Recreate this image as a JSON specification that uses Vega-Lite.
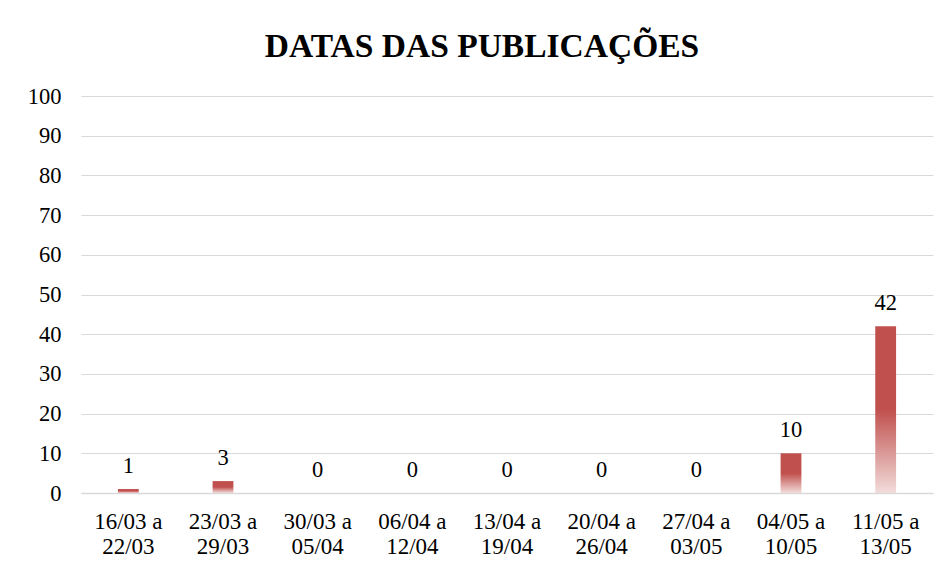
{
  "$schema": "https://vega.github.io/schema/vega-lite/v6.json",
  "width": 852,
  "height": 397,
  "autosize": {"type": "none"},
  "padding": {"left": 81, "top": 96, "right": 18, "bottom": 81},
  "background": "white",
  "title": {
    "text": "DATAS DAS PUBLICAÇÕES",
    "font": "Liberation Serif",
    "fontSize": 33.5,
    "fontWeight": "bold",
    "color": "#000000",
    "anchor": "middle",
    "dx": -25,
    "offset": 21
  },
  "data": {
    "values": [
      {"semana": "16/03 a 22/03", "n": 1},
      {"semana": "23/03 a 29/03", "n": 3},
      {"semana": "30/03 a 05/04", "n": 0},
      {"semana": "06/04 a 12/04", "n": 0},
      {"semana": "13/04 a 19/04", "n": 0},
      {"semana": "20/04 a 26/04", "n": 0},
      {"semana": "27/04 a 03/05", "n": 0},
      {"semana": "04/05 a 10/05", "n": 10},
      {"semana": "11/05 a 13/05", "n": 42}
    ]
  },
  "encoding": {
    "x": {
      "field": "semana",
      "type": "ordinal",
      "sort": null,
      "scale": {"paddingInner": 0.78, "paddingOuter": 0.39},
      "axis": {
        "title": null,
        "labelAngle": 0,
        "labelExpr": "[slice(datum.label,0,7), slice(datum.label,8)]",
        "labelFont": "Liberation Serif",
        "labelFontSize": 23,
        "labelColor": "#000000",
        "labelLineHeight": 25,
        "labelPadding": 17,
        "labelBaseline": "top",
        "ticks": false,
        "domainColor": "#d9d9d9",
        "domainWidth": 1.5,
        "grid": false
      }
    },
    "y": {
      "field": "n",
      "type": "quantitative",
      "scale": {"domain": [0, 100]},
      "axis": {
        "title": null,
        "values": [0, 10, 20, 30, 40, 50, 60, 70, 80, 90, 100],
        "labelFont": "Liberation Serif",
        "labelFontSize": 22.5,
        "labelColor": "#000000",
        "labelPadding": 20,
        "ticks": false,
        "domain": false,
        "grid": true,
        "gridColor": "#d9d9d9",
        "gridWidth": 1
      }
    }
  },
  "layer": [
    {
      "mark": {
        "type": "bar",
        "color": {
          "gradient": "linear",
          "x1": 0, "y1": 0, "x2": 0, "y2": 1,
          "stops": [
            {"offset": 0, "color": "#C0504D"},
            {"offset": 0.5, "color": "#C0504D"},
            {"offset": 1, "color": "#F2DCDB"}
          ]
        }
      }
    },
    {
      "mark": {
        "type": "text",
        "font": "Liberation Serif",
        "fontSize": 22.5,
        "color": "#000000",
        "baseline": "alphabetic",
        "dy": -16
      },
      "encoding": {"text": {"field": "n", "type": "quantitative"}}
    }
  ],
  "config": {"view": {"stroke": null}}
}
